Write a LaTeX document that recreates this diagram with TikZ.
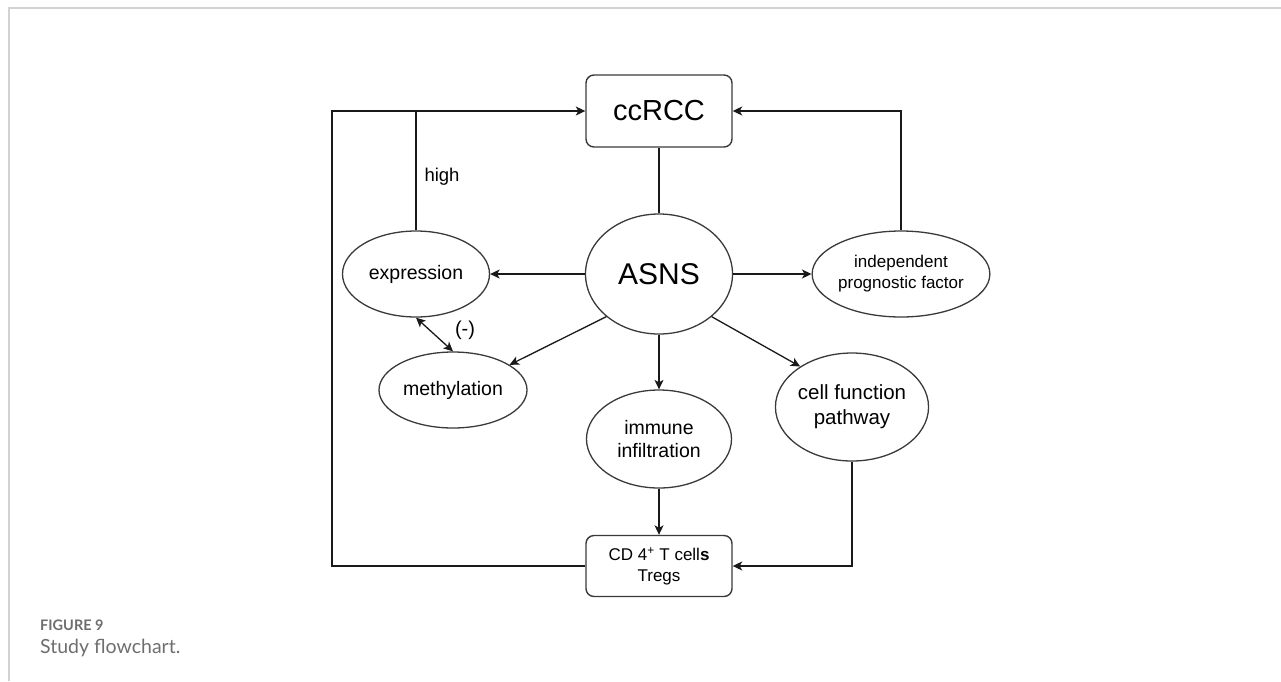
\documentclass[tikz,border=0pt]{standalone}
\usepackage{fontspec}
\setmainfont{Liberation Sans}
\newfontfamily\capfont{Lato}
\usetikzlibrary{shapes.geometric,arrows.meta}
\definecolor{frame}{HTML}{D2D2D2}
\definecolor{capgray}{HTML}{6E6E6E}
\definecolor{edge}{HTML}{3A3A3A}
\tikzset{
  arr/.style={-{Stealth[length=9.5pt,width=9pt,inset=2.5pt]}},
  dblarr/.style={{Stealth[length=9.5pt,width=9pt,inset=2.5pt]}-{Stealth[length=9.5pt,width=9pt,inset=2.5pt]}},
  conn/.style={draw=black!90,line width=1.3pt},
  rbox/.style={draw=edge,line width=1.4pt,rectangle,rounded corners=8pt,inner sep=0pt,align=center},
  oval/.style={draw=edge,line width=1.3pt,ellipse,inner sep=0pt,align=center,font=\fontsize{19.5}{23}\selectfont},
}
\begin{document}
\begin{tikzpicture}[x=1pt,y=-1pt]
\useasboundingbox (0,0) rectangle (1281,681);
% frame
\draw[frame,line width=2pt] (1281,8) -- (9,8) -- (9,681);
% caption
\node[anchor=west,text=capgray,inner sep=0pt,font=\capfont\bfseries\fontsize{14.5}{17}\selectfont] (fig) at (40,625) {FIGURE 9};
\node[anchor=west,text=capgray,inner sep=0pt,font=\capfont\fontsize{19.5}{22}\selectfont] (cap) at (40,648) {Study flowchart.};
% nodes
\node[rbox,minimum width=146pt,minimum height=72pt,font=\fontsize{29}{32}\selectfont] (cc) at (659,111) {ccRCC};
\node[oval,minimum width=147pt,minimum height=120pt,font=\fontsize{30}{34}\selectfont] (asns) at (659,274) {ASNS};
\node[oval,minimum width=147pt,minimum height=86pt] (expr) at (416,274) {expression};
\node[oval,minimum width=148pt,minimum height=76pt] (meth) at (453,390) {methylation};
\node[oval,minimum width=145pt,minimum height=86pt,font=\fontsize{17}{21}\selectfont] (ipf) at (901,274) {independent\\prognostic factor};
\node[oval,minimum width=147pt,minimum height=108pt,font=\fontsize{20.5}{25}\selectfont] (cell) at (852,407) {cell function\\pathway};
\node[oval,minimum width=145pt,minimum height=98pt] (imm) at (659,439) {immune\\infiltration};
\node[rbox,minimum width=146pt,minimum height=61pt,font=\fontsize{17}{21}\selectfont] (cd4) at (659,566) {CD 4\textsuperscript{+} T cell\textbf{s}\\Tregs};
% connectors
\draw[conn] (cc.south) -- (asns.north);
\draw[conn,arr] (asns.west) -- (expr.east);
\draw[conn,arr] (asns.east) -- (ipf.west);
\draw[conn,arr] (asns.-141) -- (meth.24);
\draw[conn,arr] (asns.-39) -- (cell.142);
\draw[conn,arr] (asns.south) -- (imm.north);
\draw[conn,arr] (imm.south) -- (cd4.north);
\draw[conn,dblarr] (expr.south) -- (meth.north);
\node[font=\fontsize{20}{24}\selectfont] (neg) at (465,330) {(-)};
\coordinate (lft) at (332,566);
\draw[conn,arr] (cd4.west) -- (lft) |- (cc.west);
\draw[conn] (expr.north) -- (expr.north |- cc.west);
\node[anchor=west,font=\fontsize{18.5}{22}\selectfont] (high) at (421,177) {high};
\draw[conn,arr] (ipf.north) |- (cc.east);
\draw[conn,arr] (cell.south) |- (cd4.east);
\end{tikzpicture}
\end{document}
